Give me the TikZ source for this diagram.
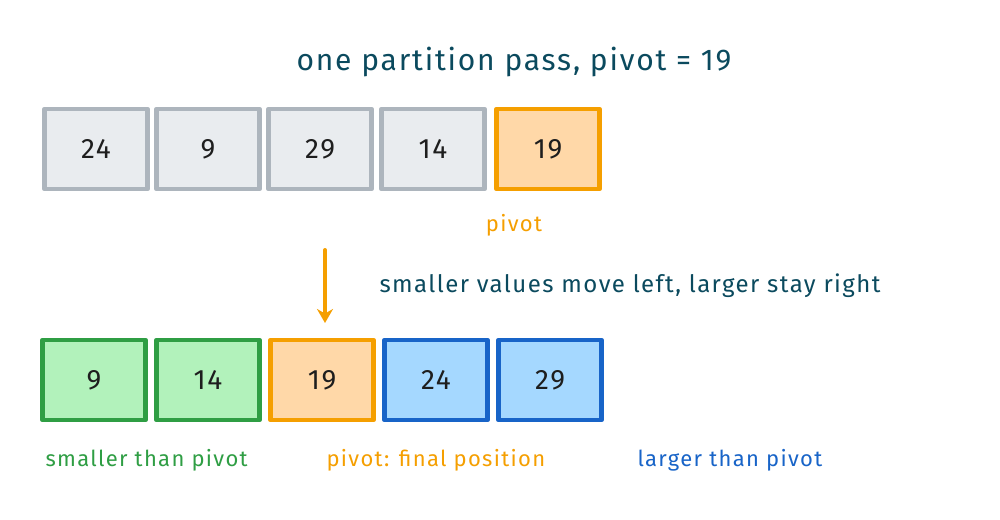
\documentclass[tikz,border=0pt]{standalone}
\usepackage{fontspec}
\setmainfont{Fira Sans}
\newfontfamily\hand[LetterSpace=6]{Fira Sans}
\usetikzlibrary{arrows.meta}
\definecolor{ttl}{HTML}{0B4A5E}
\definecolor{grs}{HTML}{ADB5BD}
\definecolor{grf}{HTML}{E9ECEF}
\definecolor{ors}{HTML}{F59F00}
\definecolor{orf}{HTML}{FFD8A8}
\definecolor{gns}{HTML}{2F9E44}
\definecolor{gnf}{HTML}{B2F2BB}
\definecolor{bls}{HTML}{1864C8}
\definecolor{blf}{HTML}{A5D8FF}
\definecolor{numc}{HTML}{1E1E1E}
\tikzset{
  cell/.style={draw, line width=4.5pt, line join=round, minimum width=103pt, minimum height=80pt, inner sep=0pt, text=numc, font=\hand\fontsize{28}{32}\selectfont},
  graycell/.style={cell, draw=grs, fill=grf},
  orangecell/.style={cell, draw=ors, fill=orf},
  greencell/.style={cell, draw=gns, fill=gnf},
  bluecell/.style={cell, draw=bls, fill=blf},
  titletext/.style={text=ttl, font=\hand\fontsize{30}{34}\selectfont},
  notetext/.style={text=ttl, font=\hand\fontsize{24}{28}\selectfont, anchor=west},
  labeltext/.style={font=\hand\fontsize{22}{26}\selectfont, anchor=west},
  arrowline/.style={draw=ors, line width=4pt, line cap=round, -{Stealth[length=14pt,width=16pt]}}
}
\begin{document}
\begin{tikzpicture}[x=1pt,y=-1pt]
\useasboundingbox[fill=white] (0,0) rectangle (1000,519);
\node[titletext] (title) at (514,62) {one partition pass, pivot = 19};
% top row
\node[graycell] (t1) at (96,149) {24};
\node[graycell] (t2) at (208,149) {9};
\node[graycell] (t3) at (320,149) {29};
\node[graycell] (t4) at (433,149) {14};
\node[orangecell] (t5) at (548,149) {19};
\node[labeltext, text=ors, anchor=center] (pivlab) at (514,225) {pivot};
% arrow
\coordinate (as) at (325,250);
\coordinate (ae) at (325,323);
\draw[arrowline] (as) -- (ae);
\node[notetext] (note) at (376,286) {smaller values move left, larger stay right};
% bottom row
\node[greencell] (b1) at (94,380) {9};
\node[greencell] (b2) at (208,380) {14};
\node[orangecell] (b3) at (322,380) {19};
\node[bluecell] (b4) at (436,380) {24};
\node[bluecell] (b5) at (550,380) {29};
\node[labeltext, text=gns] (l1) at (42,460) {smaller than pivot};
\node[labeltext, text=ors] (l2) at (323,460) {pivot: final position};
\node[labeltext, text=bls] (l3) at (634,460) {larger than pivot};
\end{tikzpicture}
\end{document}
